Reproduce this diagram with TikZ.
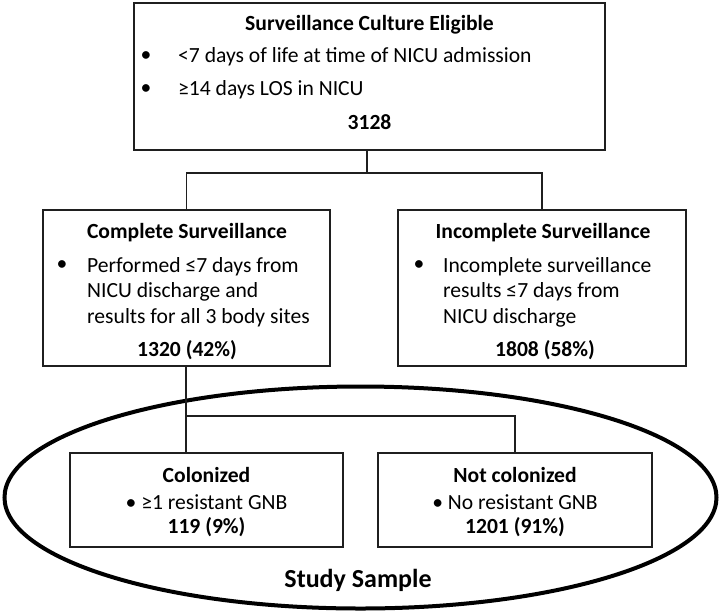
\documentclass[tikz,border=0pt]{standalone}
\usepackage{fontspec}
\setmainfont{Carlito}
\usetikzlibrary{positioning}
\begin{document}
\begin{tikzpicture}[x=1pt,y=-1pt,
  box/.style={draw=black!88, line width=1.3pt, inner sep=0pt, rectangle},
  conn/.style={draw=black!88, line width=1.3pt},
  txt/.style={inner sep=0pt, font=\fontsize{21.6}{26}\selectfont},
  ttl/.style={inner sep=0pt, font=\fontsize{21.6}{26}\selectfont\bfseries},
  para/.style={inner sep=0pt, align=left, font=\fontsize{21.6}{25.6}\selectfont}]
\useasboundingbox (0,0) rectangle (720,614);
\fill[white] (0,0) rectangle (720,614);

% study sample ellipse
\draw[line width=4pt, black] (360.5,497.5) ellipse [x radius=356, y radius=111];

% boxes
\node[box, minimum width=471pt, minimum height=147pt] (top) at (369.5,76.5) {};
\node[box, minimum width=287pt, minimum height=156pt] (comp) at (186.5,288) {};
\node[box, minimum width=288pt, minimum height=156pt] (inc) at (542,288) {};
\node[box, minimum width=273pt, minimum height=94pt] (col) at (206.5,500) {};
\node[box, minimum width=274pt, minimum height=94pt] (ncol) at (515,500) {};

% top box text
\node[ttl] (topt) at (369.5,25) {Surveillance Culture Eligible};
\node[txt] (topb1) at (146,57) {•};
\node[txt, anchor=west] (topl1) at (178,57) {<7 days of life at time of NICU admission};
\node[txt] (topb2) at (146,90) {•};
\node[txt, anchor=west] (topl2) at (178,90) {≥14 days LOS in NICU};
\node[ttl] (topn) at (369.5,122) {3128};

% complete box text
\node[ttl] (compt) at (187,233) {Complete Surveillance};
\node[txt] (compb) at (62,266) {•};
\node[para, anchor=west] (compl) at (87,292) {Performed ≤7 days from\\NICU discharge and\\results for all 3 body sites};
\node[ttl] (compn) at (187,350) {1320 (42\%)};

% incomplete box text
\node[ttl] (inct) at (543,233) {Incomplete Surveillance};
\node[txt] (incb) at (419,266) {•};
\node[para, anchor=west] (incl) at (443,292) {Incomplete surveillance\\results ≤7 days from\\NICU discharge};
\node[ttl] (incn) at (545,350) {1808 (58\%)};

% colonized
\node[ttl] (colt) at (206.5,475) {Colonized};
\node[txt] (coll) at (206.5,502) {• ≥1 resistant GNB};
\node[ttl] (coln) at (206.5,527) {119 (9\%)};

% not colonized
\node[ttl] (ncolt) at (515,475) {Not colonized};
\node[txt] (ncoll) at (515,502) {• No resistant GNB};
\node[ttl] (ncoln) at (515,527) {1201 (91\%)};

% study sample label
\node[inner sep=0pt, font=\fontsize{26}{30}\selectfont\bfseries] (ss) at (358,580) {Study Sample};

% connectors
\coordinate (j1) at (367,173);
\coordinate (j2) at (186,416);
\draw[conn] (top.south -| j1) -- (j1);
\draw[conn] (comp.north) -- (comp.north |- j1) -- (inc.north |- j1) -- (inc.north);
\draw[conn] (comp.south -| j2) -- (col.north -| j2);
\draw[conn] (j2) -| (ncol.north);
\end{tikzpicture}
\end{document}
